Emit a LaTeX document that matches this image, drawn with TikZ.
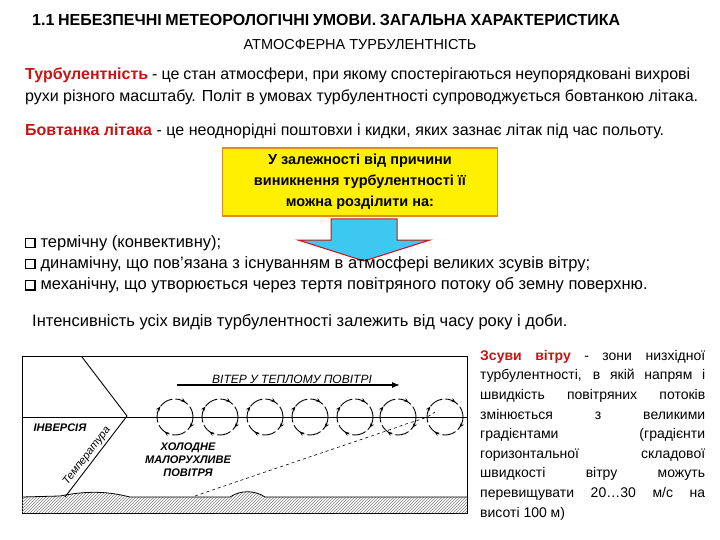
\documentclass[tikz,border=0pt]{standalone}
\usepackage{fontspec}
\setmainfont{Liberation Sans}
\usetikzlibrary{patterns,decorations.markings,arrows.meta}
\definecolor{tred}{RGB}{200,20,20}
\definecolor{ybox}{RGB}{255,240,0}
\definecolor{obox}{RGB}{220,140,40}
\definecolor{acyan}{RGB}{60,200,240}
\tikzset{
  txt/.style={anchor=west,inner sep=0pt,font=\fontsize{16}{19}\selectfont},
  btxt/.style={anchor=west,inner sep=0pt,font=\fontsize{16.5}{19}\selectfont},
  fig/.style={inner sep=0pt,font=\fontsize{11}{13}\selectfont\bfseries\itshape},
  eddy/.style={dashed,dash pattern=on 14pt off 3pt,line width=0.9pt},
}
\newcommand{\qb}{{\setlength{\fboxsep}{0pt}\setlength{\fboxrule}{1.2pt}\raisebox{0pt}{\fbox{\rule{0pt}{8pt}\hspace{8pt}}}}\hspace{5pt}}
\newcommand{\sline}[2]{\makebox[#1][s]{#2}}
\begin{document}
\begin{tikzpicture}[x=1pt,y=-1pt]
\useasboundingbox (0,0) rectangle (720,540);
\fill[white] (0,0) rectangle (720,540);
\node[inner sep=0pt,anchor=west,font=\fontsize{16}{19}\selectfont\bfseries] (t1) at (32,20) {\sline{588pt}{1.1 НЕБЕЗПЕЧНІ МЕТЕОРОЛОГІЧНІ УМОВИ. ЗАГАЛЬНА ХАРАКТЕРИСТИКА}};
\node[inner sep=0pt,font=\fontsize{14.5}{17}\selectfont] (t2) at (360,45) {АТМОСФЕРНА ТУРБУЛЕНТНІСТЬ};
\node[txt] (p1) at (25,75) {\sline{665pt}{\textcolor{tred}{\bfseries Турбулентність} - це стан атмосфери, при якому спостерігаються неупорядковані вихрові}};
\node[txt] (p2) at (25,97) {\sline{673pt}{рухи різного масштабу. Політ в умовах турбулентності супроводжується бовтанкою літака.}};
\node[txt] (p3) at (25,131) {\sline{639pt}{\textcolor{tred}{\bfseries Бовтанка літака} - це неоднорідні поштовхи і кидки, яких зазнає літак під час польоту.}};
\node[draw=obox,line width=1.5pt,fill=ybox,minimum width=275pt,minimum height=68pt,align=center,font=\fontsize{14.5}{21}\selectfont\bfseries] (yb) at (360,182) {У залежності від причини\\виникнення турбулентності її\\можна розділити на:};
\draw[tred,line width=1pt,fill=acyan] (331,219)--(397,219)--(397,240)--(430,240)--(364,261)--(298,240)--(331,240)--cycle;
\node[btxt] (b1) at (25,243) {\qb термічну (конвективну);};
\node[btxt] (b2) at (25,264) {\qb динамічну, що пов'язана з існуванням в атмосфері великих зсувів вітру;};
\node[btxt] (b3) at (25,285) {\qb механічну, що утворюється через тертя повітряного потоку об земну поверхню.};
\node[btxt] (p4) at (32,322) {Інтенсивність усіх видів турбулентності залежить від часу року і доби.};
% figure
\draw[line width=0.8pt] (22,356) rectangle (467,513);
\fill[pattern=north east lines,pattern color=gray] (22,497) -- (60,496) .. controls (90,490) and (110,492) .. (130,497) -- (230,497) .. controls (240,490) and (255,490) .. (265,497) -- (467,497) -- (467,513) -- (22,513) -- cycle;
\draw[line width=0.8pt] (22,497) -- (60,496) .. controls (90,490) and (110,492) .. (130,497) -- (230,497) .. controls (240,490) and (255,490) .. (265,497) -- (467,497);
\draw[line width=0.5pt] (22,417) -- (467,417);
\coordinate (tb) at (65,497);
\coordinate (tk) at (127,416);
\coordinate (tt) at (82,357);
\draw[line width=0.9pt] (tb) -- (tk) -- (tt);
\node[fig,rotate=52.6,font=\fontsize{11}{13}\selectfont\itshape] (temp) at (87,456) {Температура};
\node[fig] (inv) at (60,428) {ІНВЕРСІЯ};
\node[fig,align=center] (cold) at (188,460) {ХОЛОДНЕ\\МАЛОРУХЛИВЕ\\ПОВІТРЯ};
\draw[-{Latex[length=8pt]},line width=1.3pt] (177,385) -- (400,385);
\node[fig,font=\fontsize{12}{14}\selectfont\itshape] (wind) at (292,379) {ВІТЕР У ТЕПЛОМУ ПОВІТРІ};
\foreach \cx in {175,220,265,310,355,398,445} {
  \draw[eddy,postaction={decorate},decoration={markings,mark=at position 0.1 with {\arrow{Stealth[length=5pt]}},mark=at position 0.35 with {\arrow{Stealth[length=5pt]}},mark=at position 0.6 with {\arrow{Stealth[length=5pt]}},mark=at position 0.85 with {\arrow{Stealth[length=5pt]}}}] (\cx,417) circle[radius=18];
}
\draw[dashed,line width=0.6pt] (195,496) .. controls (300,460) and (360,440) .. (395,428) .. controls (415,420) and (425,420) .. (435,412);
\node[inner sep=0pt,anchor=north west,align=left,font=\fontsize{14}{19.6}\selectfont] (zs) at (480,350) {%
\sline{225pt}{\textcolor{tred}{\bfseries Зсуви вітру} - зони низхідної}\\
\sline{225pt}{турбулентності, в якій напрям і}\\
\sline{225pt}{швидкість повітряних потоків}\\
\sline{225pt}{змінюється з великими}\\
\sline{225pt}{градієнтами (градієнти}\\
\sline{225pt}{горизонтальної складової}\\
\sline{225pt}{швидкості вітру можуть}\\
\sline{225pt}{перевищувати 20…30 м/с на}\\
висоті 100 м)};
\end{tikzpicture}
\end{document}
